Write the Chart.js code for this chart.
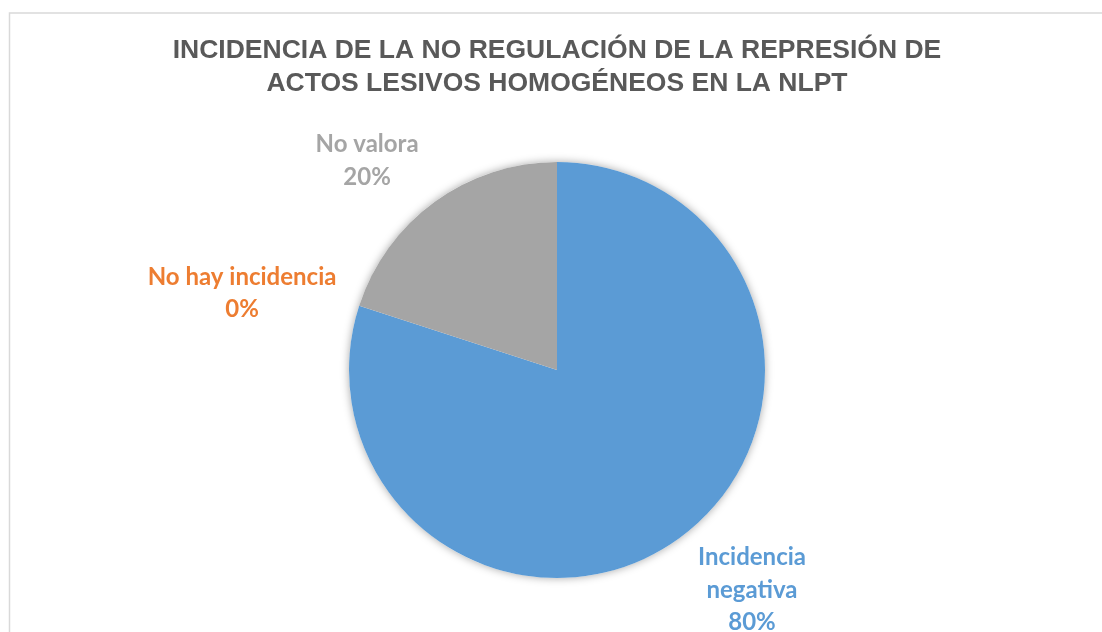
<!DOCTYPE html>
<html lang="es">
<head>
<meta charset="UTF-8">
<title>Incidencia NLPT</title>
<style>
  html, body { margin: 0; padding: 0; background: #fff; overflow: hidden; }
  .chart-container { width: 1102px; height: 632px; position: relative; }
</style>
</head>
<body>
<script src="https://cdn.jsdelivr.net/npm/chart.js"></script>

<div class="chart-container">
  <canvas id="pie-chart"></canvas>
</div>

<script>
// data
const categories = ['Incidencia negativa', 'No hay incidencia', 'No valora'];
const values = [80, 0, 20];
const labelLines = [['Incidencia', 'negativa', '80%'], ['No hay incidencia', '0%'], ['No valora', '20%']];
const colors = ['#5B9BD5', '#ED7D31', '#A5A5A5'];

// label centre offsets, in pie radii from the centre
const labelOffsets = [[0.9375, 1.058], [-1.514, -0.368], [-0.913, -1.005]];

// frame + pie shadow
const frame = {
  id: 'frame',
  beforeDraw(chart) {
    const ctx = chart.ctx;
    ctx.save();
    ctx.strokeStyle = '#d9d9d9';
    ctx.lineWidth = 1.5;
    ctx.strokeRect(9.5, 13, 1200, 700);
    ctx.restore();
  },
  beforeDatasetsDraw(chart) {
    const arc = chart.getDatasetMeta(0).data[0];
    const ctx = chart.ctx;
    ctx.save();
    ctx.shadowColor = 'rgba(0,0,0,0.35)';
    ctx.shadowBlur = 9;
    ctx.fillStyle = '#ffffff';
    ctx.beginPath();
    ctx.arc(arc.x, arc.y, arc.outerRadius, 0, Math.PI * 2);
    ctx.fill();
    ctx.restore();
  }
};

// data labels
const pieLabels = {
  id: 'pieLabels',
  afterDatasetsDraw(chart) {
    const ctx = chart.ctx;
    const meta = chart.getDatasetMeta(0);
    ctx.save();
    ctx.font = 'bold 24px Lato, "Open Sans", sans-serif';
    ctx.textAlign = 'center';
    ctx.textBaseline = 'middle';
    meta.data.forEach((arc, i) => {
      const r = arc.outerRadius;
      const cx = arc.x + labelOffsets[i][0] * r;
      const cy = arc.y + labelOffsets[i][1] * r;
      const lines = labelLines[i];
      const lh = 32.5;
      ctx.fillStyle = colors[i];
      lines.forEach((t, k) => {
        ctx.fillText(t, cx, cy + (k - (lines.length - 1) / 2) * lh);
      });
    });
    ctx.restore();
  }
};

new Chart(document.getElementById('pie-chart'), {
  type: 'pie',
  data: {
    labels: categories,
    datasets: [{
      data: values,
      backgroundColor: colors,
      borderWidth: 0
    }]
  },
  options: {
    responsive: true,
    maintainAspectRatio: false,
    animation: false,
    layout: { padding: { top: 0, bottom: 54, left: 12, right: 0 } },
    plugins: {
      legend: { display: false },
      tooltip: { enabled: false },
      title: {
        display: true,
        text: ['INCIDENCIA DE LA NO REGULACIÓN DE LA REPRESIÓN DE', 'ACTOS LESIVOS HOMOGÉNEOS EN LA NLPT'],
        color: '#595959',
        font: { family: '"Liberation Sans", Arial, sans-serif', size: 26.5, weight: 'bold', lineHeight: 1.245 },
        padding: { top: 34, bottom: 62 }
      }
    }
  },
  plugins: [frame, pieLabels]
});
</script>
</body>
</html>
